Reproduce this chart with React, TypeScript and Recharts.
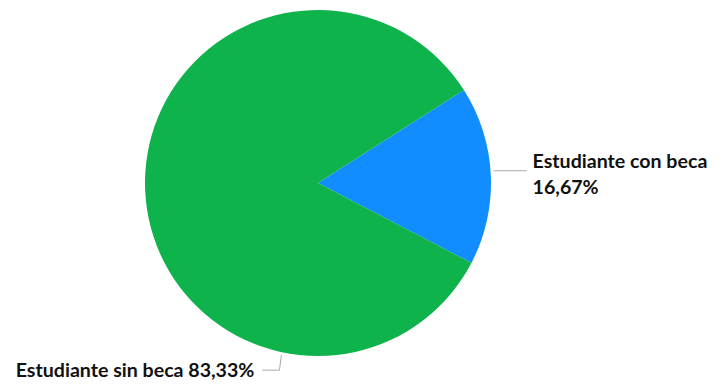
import { PieChart, Pie, Cell } from "recharts";

const categories = ["Estudiante con beca", "Estudiante sin beca"];
const values = [16.67, 83.33];
const colors = ["#118DFF", "#0FB34C"];
// angle (degrees) on the rim where each label leader starts
const labelAngles = [4, 258];

const data = categories.map((name, i) => ({ name, value: values[i] }));

const RAD = Math.PI / 180;
const fmt = (v: number) => v.toFixed(2).replace(".", ",") + "%";

const textStyle = {
  fontFamily: "Lato, 'Noto Sans', sans-serif",
  fontWeight: 700,
  fontSize: 19.6,
  fill: "#111",
};

function renderLabel(props: any) {
  const { cx, cy, outerRadius, index } = props;
  const a = labelAngles[index] * RAD;
  const sx = cx + (outerRadius + 3) * Math.cos(a);
  const sy = cy - (outerRadius + 3) * Math.sin(a);
  const v = values[index];
  if (index === 0) {
    const ex = sx + 33;
    return (
      <g>
        <line x1={sx} y1={sy} x2={ex} y2={sy} stroke="#aaa" strokeWidth={1} />
        <text x={ex + 6} y={sy - 3} style={textStyle}>
          {categories[index]}
        </text>
        <text x={ex + 6} y={sy + 23} style={textStyle}>
          {fmt(v)}
        </text>
      </g>
    );
  }
  const my = sy + 15;
  const ex = sx - 19;
  return (
    <g>
      <polyline
        points={`${sx},${sy} ${sx - 2},${my} ${ex},${my}`}
        fill="none"
        stroke="#aaa"
        strokeWidth={1}
      />
      <text x={ex - 8} y={my + 7} textAnchor="end" style={textStyle}>
        {categories[index] + " " + fmt(v)}
      </text>
    </g>
  );
}

export default function App() {
  return (
    <div style={{ position: "absolute", left: 0, top: 0 }}>
      <PieChart width={723} height={388} margin={{ top: 0, right: 0, bottom: 0, left: 0 }}>
        <Pie
          data={data}
          dataKey="value"
          nameKey="name"
          cx={318}
          cy={183}
          outerRadius={173}
          startAngle={-27.5}
          endAngle={332.5}
          stroke="none"
          label={renderLabel}
          labelLine={false}
          isAnimationActive={false}
        >
          {data.map((d, i) => (
            <Cell key={d.name} fill={colors[i]} />
          ))}
        </Pie>
      </PieChart>
    </div>
  );
}
